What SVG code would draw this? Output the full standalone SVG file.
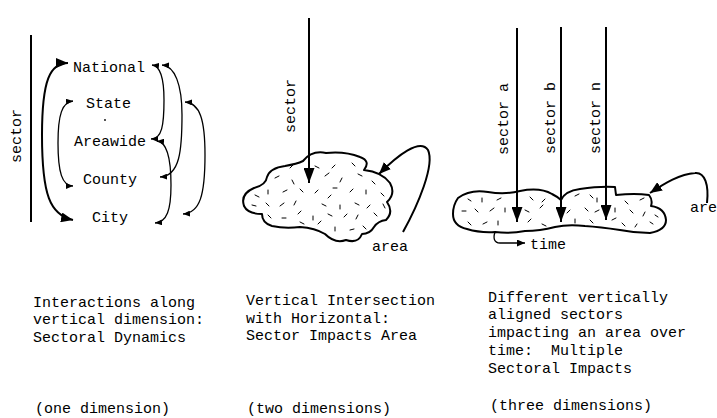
<svg xmlns="http://www.w3.org/2000/svg" width="717" height="418" viewBox="0 0 717 418">
<style>
text{font-family:"Liberation Mono","Courier New",monospace;font-size:15px;fill:#000}
.ln{fill:none;stroke:#000;stroke-width:2}
.thin{fill:none;stroke:#000;stroke-width:1.3}
.blob{fill:#fff;stroke:#000;stroke-width:2;stroke-linejoin:round}
.tex{fill:none;stroke:#000;stroke-width:1;stroke-linecap:round}
</style>
<defs>
<marker id="big" viewBox="0 0 15 11" refX="15" refY="5.5" markerWidth="15" markerHeight="11" markerUnits="userSpaceOnUse" orient="auto"><path d="M0,0 L15,5.5 L0,11 z"/></marker>
<marker id="mid" viewBox="0 0 12 10" refX="12" refY="5" markerWidth="12" markerHeight="10" markerUnits="userSpaceOnUse" orient="auto-start-reverse"><path d="M0,0 L12,5 L0,10 z"/></marker>
<marker id="sm" viewBox="0 0 7 6" refX="7" refY="3" markerWidth="7" markerHeight="6" markerUnits="userSpaceOnUse" orient="auto-start-reverse"><path d="M0,0 L7,3 L0,6 z"/></marker>
<marker id="tm" viewBox="0 0 8 7" refX="8" refY="3.5" markerWidth="8" markerHeight="7" markerUnits="userSpaceOnUse" orient="auto"><path d="M0,0 L8,3.5 L0,7 z"/></marker>
</defs>
<rect width="717" height="418" fill="#fff"/>

<!-- Panel 1 -->
<g id="p1-axis">
<line class="ln" x1="31" y1="35" x2="31" y2="222"/>
<text transform="translate(21,136) rotate(-90)" text-anchor="middle">sector</text>
</g>
<g id="national"><text x="73" y="72">National</text></g>
<g id="state"><text x="86" y="108">State</text></g>
<g id="dot"><circle cx="105" cy="120" r="0.9" fill="#000"/></g>
<g id="areawide"><text x="74" y="146">Areawide</text></g>
<g id="county"><text x="83" y="184">County</text></g>
<g id="city"><text x="92" y="222">City</text></g>

<!-- Panel 2 -->
<g id="area2">
<path class="blob" d="M303 161 Q312 150 326 153 Q345 151 360 157 Q371 161 364 170 Q382 172 390 183 Q396 194 387 202 Q394 212 386 220 Q378 221 374 227 Q370 234 362 234 Q358 244 346 240 Q335 244 325 234 Q315 228 300 227 Q285 229 272 226 Q262 223 262 214 Q248 214 244 206 Q240 194 254 188 Q266 185 267 177 Q270 168 285 166 Q297 164 303 161 Z"/>
<path class="tex" d="M290 168 l3 -3 M315 166 l4 2 M335 165 l-3 3 M352 163 l3 3 M275 178 l4 -2 M292 180 l2 4 M325 176 l4 -3 M342 178 l-2 4 M358 174 l4 2 M372 181 l3 3 M255 195 l4 2 M268 190 l0 4 M283 192 l4 -2 M300 189 l3 3 M318 190 l-3 3 M333 188 l4 0 M350 192 l3 -3 M366 190 l0 4 M381 193 l3 3 M252 205 l4 1 M266 203 l3 3 M280 206 l4 -3 M296 201 l-2 4 M322 204 l4 2 M328 198 l3 -3 M340 205 l0 4 M355 203 l4 2 M370 205 l-3 3 M383 204 l2 4 M268 215 l3 3 M282 218 l4 0 M298 214 l3 -3 M313 216 l0 4 M328 214 l4 2 M344 217 l3 -3 M358 215 l-2 4 M374 213 l3 3 M300 222 l4 2 M318 224 l3 -3 M335 227 l0 4 M350 230 l4 -1 M363 226 l3 3"/>
<text x="372" y="251">area</text>
</g>
<g id="sector2"><text transform="translate(295,106) rotate(-90)" text-anchor="middle">sector</text></g>

<!-- Panel 3 -->
<g id="area3">
<path class="blob" d="M458 198 Q470 189 488 192 Q505 195 520 191 Q540 187 552 194 Q558 197 561 200 Q565 191 580 189 Q600 186 615 187 L616 195 Q635 193 649 195 Q653 200 651 206 Q665 208 666 220 Q666 230 650 233 Q635 233 620 230 Q600 227 585 226 Q568 224 555 227 Q540 231 525 231 Q510 234 495 232 Q480 233 467 229 Q453 226 453 214 Q453 205 458 198 Z"/>
<path class="tex" d="M468 199 l3 2 M482 198 l0 4 M497 200 l4 -2 M530 197 l3 3 M545 199 l-3 3 M575 196 l4 -2 M590 195 l3 3 M597 198 l0 4 M625 201 l3 3 M640 200 l4 -2 M462 211 l4 0 M475 209 l3 3 M490 211 l4 -3 M505 208 l0 4 M525 210 l4 2 M540 208 l3 -3 M570 210 l-3 3 M585 208 l3 3 M595 212 l4 -2 M615 208 l0 4 M630 210 l3 3 M645 212 l-2 4 M655 215 l3 2 M468 222 l3 3 M483 224 l4 -2 M498 221 l0 4 M528 222 l3 -3 M542 224 l4 2 M575 219 l0 4 M590 220 l3 3 M612 220 l4 -2 M622 223 l3 3 M637 224 l-2 3 M650 222 l3 2"/>
<text x="690" y="212">are</text>
</g>
<g id="sector-a"><text transform="translate(508,119) rotate(-90)" text-anchor="middle">sector a</text></g>
<g id="sector-b"><text transform="translate(555,118) rotate(-90)" text-anchor="middle">sector b</text></g>
<g id="sector-n"><text transform="translate(600,118) rotate(-90)" text-anchor="middle">sector n</text></g>
<g id="time"><text x="530" y="249">time</text></g>

<!-- Connectors -->
<g id="connectors">
<path class="ln" d="M68 63 C50 63 42 80 42 135 C42 195 50 215 73 220" marker-start="url(#mid)" marker-end="url(#mid)"/>
<path class="thin" d="M73 101 C62 102 58 115 58 143 C58 172 62 186 73 186" marker-start="url(#sm)" marker-end="url(#sm)"/>
<path class="thin" d="M152 65 C161 66 164 80 164 100 C164 125 162 139 151 139" marker-start="url(#sm)" marker-end="url(#sm)"/>
<path class="thin" d="M162 65 C175 66 182 85 182 115 C182 150 180 176 160 177" marker-start="url(#sm)" marker-end="url(#sm)"/>
<path class="thin" d="M157 141 C167 142 171 160 171 185 C171 210 167 222 155 223" marker-start="url(#sm)" marker-end="url(#sm)"/>
<path class="thin" d="M185 102 C200 103 205 120 205 155 C205 195 200 213 183 214" marker-start="url(#sm)" marker-end="url(#sm)"/>
<line class="ln" x1="309" y1="18" x2="309" y2="183" marker-end="url(#big)"/>
<path class="ln" d="M403 232 C418 205 435 165 428 150 C420 138 398 155 379 174" marker-end="url(#mid)"/>
<line class="ln" x1="517" y1="28" x2="517" y2="222" marker-end="url(#big)"/>
<line class="ln" x1="561" y1="27" x2="561" y2="222" marker-end="url(#big)"/>
<line class="ln" x1="606" y1="27" x2="606" y2="220" marker-end="url(#big)"/>
<path class="ln" d="M707 203 C709 185 705 172 695 173 C680 174 665 183 650 193" marker-end="url(#mid)"/>
<path class="thin" d="M495 232 C493 238 494 243 500 243 L525 243" marker-end="url(#tm)"/>
</g>

<!-- Captions -->
<g id="caption1">
<text x="33" y="307">Interactions along</text>
<text x="33" y="324">vertical dimension:</text>
<text x="33" y="342">Sectoral Dynamics</text>
<text x="35" y="413">(one dimension)</text>
</g>
<g id="caption2">
<text x="246" y="305">Vertical Intersection</text>
<text x="246" y="323">with Horizontal:</text>
<text x="246" y="340">Sector Impacts Area</text>
<text x="247" y="413">(two dimensions)</text>
</g>
<g id="caption3">
<text x="488" y="302">Different vertically</text>
<text x="488" y="319">aligned sectors</text>
<text x="488" y="337">impacting an area over</text>
<text x="488" y="355" xml:space="preserve">time:  Multiple</text>
<text x="488" y="373">Sectoral Impacts</text>
<text x="490" y="410">(three dimensions)</text>
</g>
</svg>
